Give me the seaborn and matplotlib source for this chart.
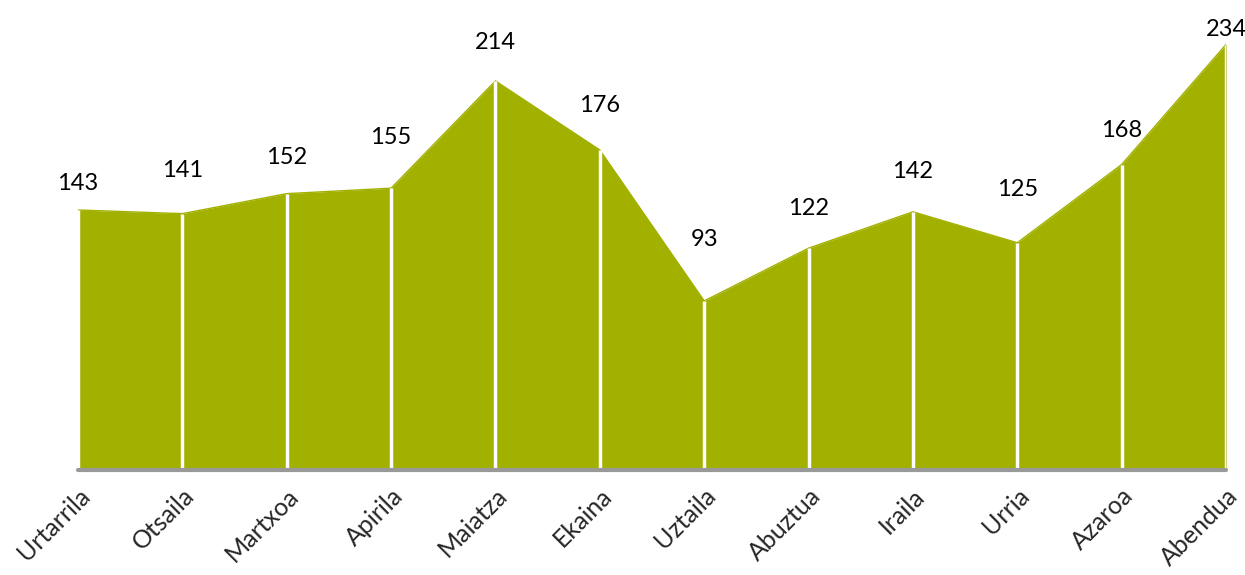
import matplotlib
matplotlib.use("Agg")
import matplotlib.pyplot as plt
import seaborn as sns
import pandas as pd

months = ["Urtarrila", "Otsaila", "Martxoa", "Apirila", "Maiatza", "Ekaina",
          "Uztaila", "Abuztua", "Iraila", "Urria", "Azaroa", "Abendua"]
values = [143, 141, 152, 155, 214, 176, 93, 122, 142, 125, 168, 234]

# distance of each value label centre above its point (pixels)
label_offsets = [27, 43, 36, 51, 38, 45, 61, 40, 40, 53, 34, 15]

df = pd.DataFrame({"month": months, "value": values})
df["x"] = range(len(df))

sns.set_style("white")
plt.rcParams["font.family"] = ["Lato", "DejaVu Sans"]

green = "#a2b000"

fig = plt.figure(figsize=(12.45, 5.75), dpi=100)
ax = fig.add_axes([78 / 1245, 105 / 575, (1226 - 78) / 1245, 470 / 575])

ax.fill_between(df["x"], 0, df["value"], color=green, linewidth=0)
sns.lineplot(data=df, x="x", y="value", color=green, linewidth=1, ax=ax)
ax.vlines(df["x"], 0, df["value"], color="white", linewidth=2.5)
ax.axhline(0, color="#999999", linewidth=3, clip_on=False)

for x, v, off in zip(df["x"], df["value"], label_offsets):
    ax.annotate(str(v), (x, v), xytext=(0, off * 0.72), textcoords="offset points",
                ha="center", va="center", fontsize=17, color="black")

ax.set_xlim(0, len(df) - 1)
ax.set_ylim(0, 258.5)
ax.set_xticks(df["x"])
ax.set_xticklabels(df["month"], rotation=45, ha="right", rotation_mode="anchor",
                   fontsize=18)
ax.tick_params(axis="x", length=0, pad=10)
ax.set_yticks([])
ax.set_xlabel("")
ax.set_ylabel("")
for s in ax.spines.values():
    s.set_visible(False)

fig.savefig("out.png", dpi=100)
